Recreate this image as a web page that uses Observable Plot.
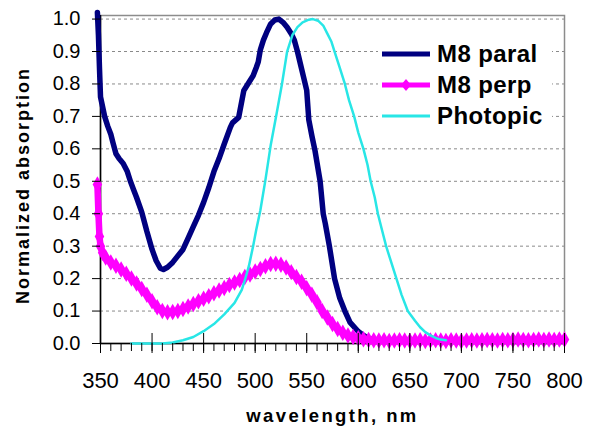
<!DOCTYPE html>
<html><head><meta charset="utf-8">
<script src="https://cdn.jsdelivr.net/npm/d3@7"></script>
<script src="https://cdn.jsdelivr.net/npm/@observablehq/plot@0.6"></script>
<style>
body{margin:0;background:#fff;}
#wrap{position:relative;width:591px;height:430px;overflow:hidden;}
#legend{position:absolute;left:378px;top:36px;width:174px;height:94px;background:#fff;font:bold 24px "Liberation Sans",Arial,sans-serif;color:#000;}
.row{position:absolute;left:0;height:30px;line-height:30px;white-space:nowrap;}
.row svg{position:absolute;left:0;top:0;}
.row span{position:absolute;left:59px;top:0;letter-spacing:0.4px;}
.ttl text{letter-spacing:2px;}
.ttlx text{letter-spacing:2.4px;}
</style></head><body>
<div id="wrap"></div>
<script>
// ---- data ----
const seriesNames = ["M8 paral", "M8 perp", "Photopic"];
const seriesColors = ["#000080", "#ff00ff", "#28e6e6"];

const paralNm  = [347,348,349,350,352,354,357,360,362,365,368,372,376,379,382,385,390,395,400,404,408,411,415,420,425,430,435,440,445,450,455,460,465,470,476,478,484,489,494,498,501,503,505,508,511,515,519,523,527,531,535,538,541,544,547,550,552,555,558,563,566,568,572,577,582,587,592,600,605,610,620,650,700,750,800];
const paralVal = [1.02,0.95,0.85,0.76,0.73,0.70,0.67,0.645,0.62,0.585,0.57,0.555,0.53,0.50,0.475,0.45,0.405,0.345,0.29,0.255,0.232,0.228,0.235,0.25,0.27,0.29,0.325,0.36,0.395,0.435,0.48,0.53,0.57,0.615,0.667,0.68,0.697,0.78,0.805,0.825,0.85,0.868,0.905,0.935,0.958,0.985,0.997,1.0,0.99,0.975,0.955,0.935,0.9,0.86,0.82,0.78,0.69,0.64,0.595,0.50,0.40,0.37,0.30,0.20,0.14,0.10,0.065,0.037,0.025,0.015,0.01,0.008,0.008,0.008,0.008];

const perpNm  = [347,348,349,350,352,355,360,365,370,375,380,385,390,395,400,405,410,415,420,425,430,435,440,445,450,455,460,465,470,475,480,485,490,495,500,505,510,515,520,525,530,535,540,545,550,555,560,565,570,575,580,585,590,595,600,605,
                 610,615,620,625,630,635,640,645,650,655,660,665,670,675,680,685,690,695,700,705,710,715,720,725,730,735,740,745,750,755,760,765,770,775,780,785,790,795,800];
const perpVal = [0.49,0.40,0.33,0.30,0.28,0.265,0.25,0.24,0.228,0.215,0.20,0.185,0.168,0.15,0.13,0.112,0.10,0.096,0.097,0.10,0.106,0.114,0.122,0.13,0.138,0.146,0.155,0.163,0.171,0.18,0.188,0.196,0.205,0.213,0.222,0.23,0.238,0.245,0.246,0.243,0.234,0.22,0.205,0.19,0.17,0.15,0.127,0.10,0.08,0.06,0.045,0.033,0.025,0.02,0.016,0.013,
                 0.011,0.010,0.009,0.010,0.008,0.009,0.010,0.009,0.008,0.009,0.010,0.008,0.009,0.010,0.009,0.008,0.010,0.009,0.008,0.009,0.010,0.009,0.010,0.011,0.010,0.009,0.011,0.010,0.011,0.012,0.011,0.010,0.011,0.012,0.011,0.012,0.011,0.012,0.012];

const photNm  = [380,400,410,420,430,440,450,460,470,480,487,490,494,498,501,505,510,515,520,526,531,536,541,546,552,556,561,566,570,574,577,582,587,591,596,600,605,609,612,616,619,623,627,632,637,642,648,655,660,665,670,675,680,685];
const photVal = [0,0,0,0.003,0.01,0.02,0.038,0.06,0.09,0.125,0.165,0.195,0.24,0.30,0.35,0.41,0.505,0.61,0.695,0.80,0.90,0.95,0.975,0.99,0.998,1.0,0.995,0.98,0.955,0.93,0.90,0.85,0.80,0.75,0.70,0.65,0.60,0.55,0.50,0.45,0.40,0.35,0.30,0.25,0.20,0.15,0.10,0.07,0.05,0.035,0.025,0.017,0.012,0.01];

const xMajor = [350,400,450,500,550,600,650,700,750,800];
const xMinor = d3.range(350, 801, 10);
const yTicks = [0,0.1,0.2,0.3,0.4,0.5,0.6,0.7,0.8,0.9,1.0];
const xTitle = "wavelength, nm";
const yTitle = "Normalized absorption";

// ---- build ----
const toRows = (nm, v) => nm.map((x, i) => ({x, y: v[i]}));
const paral = toRows(paralNm, paralVal);
const perp = toRows(perpNm, perpVal);
const phot = toRows(photNm, photVal);

const W = 591, H = 430, mT = 15, mB = 87;
const font = '"Liberation Sans", Arial, sans-serif';
const chart = Plot.plot({
  width: W, height: H,
  marginLeft: 100, marginRight: 27, marginTop: mT, marginBottom: mB,
  style: {fontFamily: font, color: "#000", background: "#fff", overflow: "visible"},
  x: {domain: [350, 800]},
  y: {domain: [0, 1.011]},
  marks: [
    Plot.gridY(yTicks.filter(d => d > 0), {stroke: "#8a8a8a", strokeOpacity: 1, strokeDasharray: "3,3"}),
    Plot.frame({stroke: "#8c8c8c", strokeWidth: 1.5}),
    Plot.ruleX([350], {stroke: "#000", strokeWidth: 1.5}),
    Plot.ruleY([0], {stroke: "#000", strokeWidth: 1.5}),
    Plot.line(paral, {x: "x", y: "y", stroke: seriesColors[0], strokeWidth: 5.5}),
    Plot.line(perp, {x: "x", y: "y", stroke: seriesColors[1], strokeWidth: 6.5}),
    Plot.dot(perp, {x: "x", y: "y", symbol: "diamond", r: 5, fill: seriesColors[1]}),
    Plot.line(phot, {x: "x", y: "y", stroke: seriesColors[2], strokeWidth: 2.5}),
    Plot.axisY(yTicks, {tickSize: 8, tickPadding: 12, tickFormat: d3.format(".1f"), fontSize: 20, label: null}),
    Plot.axisX(xMajor, {tickSize: 10, tickPadding: 19, fontSize: 22, label: null, tickFormat: d => String(d)}),
    Plot.ruleX(xMajor, {x: d => d, stroke: "#000", insetTop: (H - mT - mB) - 10}),
    Plot.axisX(xMinor, {tickSize: 8, fill: "none", label: null}),
    Plot.text([yTitle], {text: d => d, frameAnchor: "left", textAnchor: "middle", rotate: -90, dx: -77, dy: 6, fontWeight: "bold", fontSize: 18, className: "ttl"}),
    Plot.text([xTitle], {text: d => d, frameAnchor: "bottom", textAnchor: "middle", dy: 78, fontWeight: "bold", fontSize: 18.5, className: "ttlx"})
  ]
});
const wrap = document.getElementById("wrap");
wrap.appendChild(chart);

// ---- legend ----
const legend = document.createElement("div");
legend.id = "legend";
const centers = [18, 49, 80];
seriesNames.forEach((name, i) => {
  const row = document.createElement("div");
  row.className = "row";
  row.style.top = (centers[i] - 15) + "px";
  const sw = i === 2 ? 3 : 5;
  let svg = `<svg width="56" height="30"><line x1="4" x2="52" y1="15" y2="15" stroke="${seriesColors[i]}" stroke-width="${sw}"/>`;
  if (i === 1) svg += `<path d="M28,9 L33,15 L28,21 L23,15 Z" fill="${seriesColors[i]}"/>`;
  svg += `</svg>`;
  row.innerHTML = svg + `<span>${name}</span>`;
  legend.appendChild(row);
});
wrap.appendChild(legend);
</script>
</body></html>
